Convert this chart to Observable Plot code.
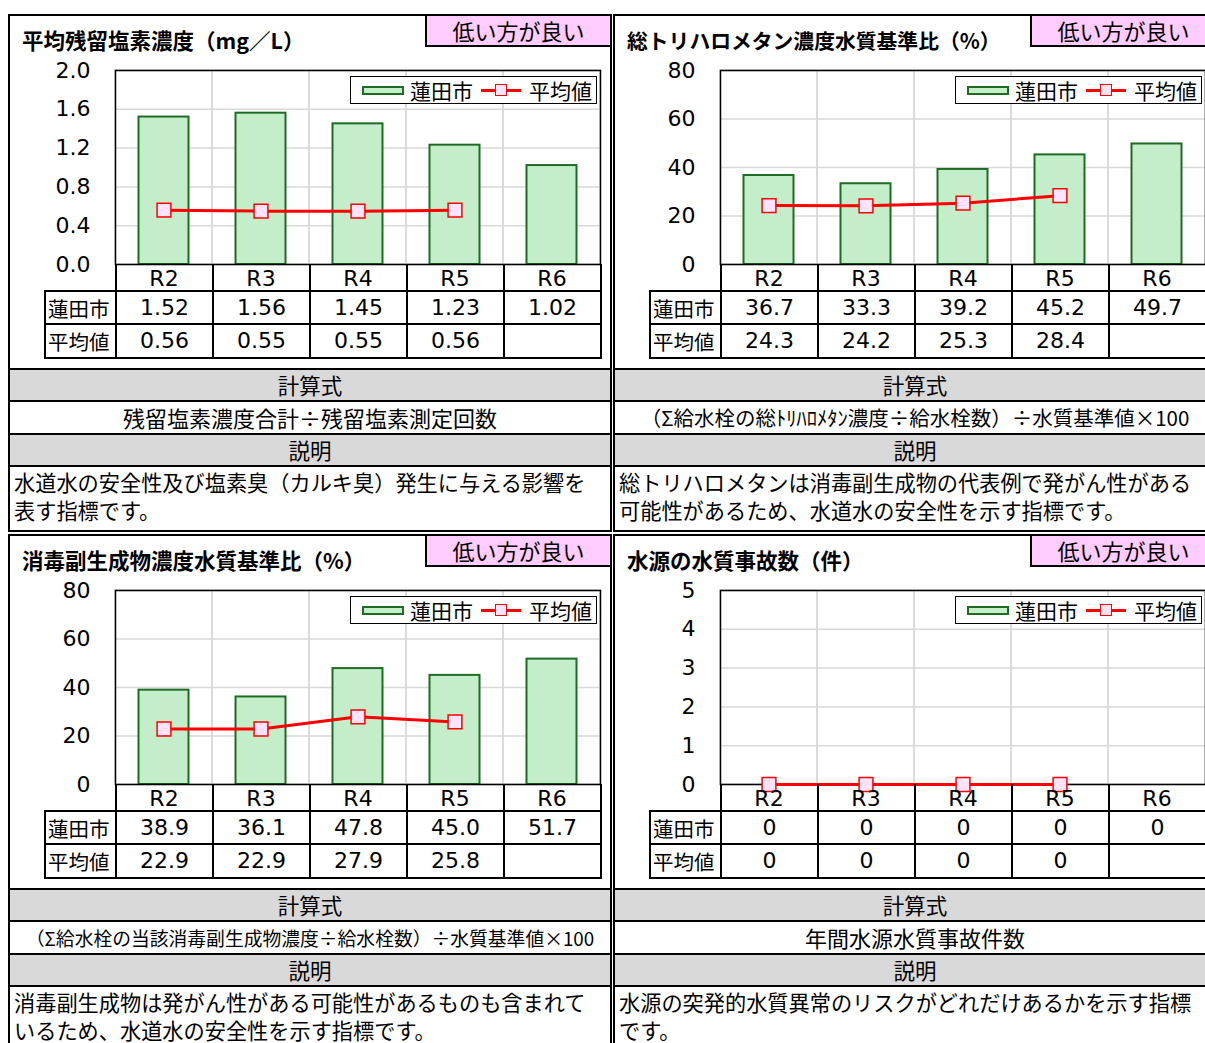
<!DOCTYPE html>
<html><head><meta charset="utf-8">
<script src="https://cdn.jsdelivr.net/npm/d3@7"></script>
<script src="https://cdn.jsdelivr.net/npm/@observablehq/plot@0.6"></script>
<style>
html,body{margin:0;padding:0;background:#fff;}
body{width:1205px;height:1043px;overflow:hidden;position:relative;font-family:"Noto Sans CJK JP","Noto Sans",sans-serif;color:#000;}
.panel{position:absolute;width:604px;height:518px;border:2px solid #000;box-sizing:border-box;background:#fff;}
.title{position:absolute;left:12px;top:10px;font-size:21.5px;font-weight:bold;line-height:28px;white-space:nowrap;}
.badge{position:absolute;left:415px;top:0;right:0;height:31px;box-sizing:border-box;border-left:2px solid #000;border-bottom:2px solid #000;background:#FFCCFF;font-size:22px;line-height:28px;text-align:center;white-space:nowrap;}
.chart{position:absolute;left:0;top:42px;}
.legend{position:absolute;left:340px;top:60px;width:247px;height:28px;box-sizing:border-box;border:1.5px solid #000;background:#fff;display:flex;align-items:center;font-size:21px;line-height:24px;white-space:nowrap;}
.legend .sw{display:inline-block;width:42px;height:9px;box-sizing:border-box;border:2px solid #1E6B24;background:#C4EEC9;margin-left:11px;margin-right:6px;}
.legend .ln{display:inline-block;position:relative;width:40px;height:3px;background:#FF0000;margin-left:8px;margin-right:8px;}
.legend .ln i{position:absolute;left:14px;top:-5px;width:12px;height:12px;box-sizing:border-box;border:1.5px solid #FF0000;background:#FFE3FF;}
.tbl{position:absolute;left:34px;top:248px;border-collapse:collapse;table-layout:fixed;}
.tbl td{border:2px solid #000;padding:0;text-align:center;font-family:"DejaVu Sans","Noto Sans CJK JP",sans-serif;font-size:22px;line-height:30px;white-space:nowrap;}
.tbl tr.hdr td{border-top:none;height:26px;}
.tbl tr.hdr td.blank{border:none;}
.tbl td.lab{font-family:"Noto Sans CJK JP",sans-serif;font-size:20.5px;text-align:left;padding-left:2px;}
.tbl tr.r1 td{height:31px;}
.tbl tr.r2 td{height:32px;}
.sec{position:absolute;left:0;right:0;top:352px;}
.sec div{border-top:2px solid #000;text-align:center;font-size:21.5px;white-space:nowrap;overflow:hidden;}
.sec .g{background:#D9D9D9;height:30px;line-height:30px;}
.sec .f{height:31px;line-height:31px;}
.sec .d{height:62px;text-align:left;padding:1px 0 0 4px;line-height:28px;box-sizing:border-box;font-size:21.2px;}
</style>
</head><body>
<script>
const years = ["R2","R3","R4","R5","R6"];
const rowLabels = ["蓮田市","平均値"];
const badgeText = "低い方が良い";

const titles = ["平均残留塩素濃度（mg／L）","総トリハロメタン濃度水質基準比（%）","消毒副生成物濃度水質基準比（%）","水源の水質事故数（件）"];
const formulas = ["残留塩素濃度合計÷残留塩素測定回数","（Σ給水栓の総ﾄﾘﾊﾛﾒﾀﾝ濃度÷給水栓数）÷水質基準値×100","（Σ給水栓の当該消毒副生成物濃度÷給水栓数）÷水質基準値×100","年間水源水質事故件数"];
const descriptions = [
  ["水道水の安全性及び塩素臭（カルキ臭）発生に与える影響を","表す指標です。"],
  ["総トリハロメタンは消毒副生成物の代表例で発がん性がある","可能性があるため、水道水の安全性を示す指標です。"],
  ["消毒副生成物は発がん性がある可能性があるものも含まれて","いるため、水道水の安全性を示す指標です。"],
  ["水源の突発的水質異常のリスクがどれだけあるかを示す指標","です。"]
];

const cityChlorine = [1.52,1.56,1.45,1.23,1.02];
const avgChlorine = [0.56,0.55,0.55,0.56,null];
const cityTHM = [36.7,33.3,39.2,45.2,49.7];
const avgTHM = [24.3,24.2,25.3,28.4,null];
const cityDBP = [38.9,36.1,47.8,45.0,51.7];
const avgDBP = [22.9,22.9,27.9,25.8,null];
const cityAccident = [0,0,0,0,0];
const avgAccident = [0,0,0,0,null];

const ticksChlorine = [0,0.4,0.8,1.2,1.6,2.0];
const ticksPercent = [0,20,40,60,80];
const ticksAccident = [0,1,2,3,4,5];

const configs = [
  {city:cityChlorine, avg:avgChlorine, ticks:ticksChlorine, tickFmt:d3.format(".1f"), valFmt:d3.format(".2f"), left:8, top:14, fsFormula:22, fsTitle:21.5},
  {city:cityTHM, avg:avgTHM, ticks:ticksPercent, tickFmt:d3.format("d"), valFmt:d3.format(".1f"), left:613, top:14, fsFormula:20.5, fsTitle:20.8},
  {city:cityDBP, avg:avgDBP, ticks:ticksPercent, tickFmt:d3.format("d"), valFmt:d3.format(".1f"), left:8, top:534, fsFormula:18.8, fsTitle:21.5},
  {city:cityAccident, avg:avgAccident, ticks:ticksAccident, tickFmt:d3.format("d"), valFmt:d3.format("d"), left:613, top:534, fsFormula:22, fsTitle:21.5}
];

const NUMFONT = "'DejaVu Sans','Noto Sans CJK JP',sans-serif";

function makeChart(cfg){
  const rows = years.map((yr,i)=>({year:yr, city:cfg.city[i], avg:cfg.avg[i]}));
  const avgRows = rows.filter(d=>d.avg!=null);
  const ymax = cfg.ticks[cfg.ticks.length-1];
  return Plot.plot({
    width:600, height:234, marginLeft:105, marginRight:10, marginTop:12, marginBottom:28,
    style:{fontFamily:NUMFONT, fontSize:"22px", color:"#000", background:"transparent", overflow:"visible"},
    x:{type:"band", domain:years, padding:0, label:null},
    y:{domain:[0,ymax], label:null},
    marks:[
      Plot.ruleY(cfg.ticks,{stroke:"#D9D9D9", strokeWidth:1.5}),
      Plot.barY(years,{x:d=>d, y1:()=>0, y2:()=>ymax, fill:"none", stroke:"#D9D9D9", strokeWidth:1.5}),
      Plot.barY(rows,{x:"year", y:"city", fill:"#C4EEC9", stroke:"#1E6B24", strokeWidth:2, insetLeft:23.5, insetRight:23.5}),
      Plot.frame({stroke:"#000", strokeWidth:1.5}),
      Plot.line(avgRows,{x:"year", y:"avg", stroke:"#FF0000", strokeWidth:3}),
      Plot.dot(avgRows,{x:"year", y:"avg", symbol:"square", r:7.8, fill:"#FFE3FF", stroke:"#FF0000", strokeWidth:1.5}),
      Plot.axisY({ticks:cfg.ticks, tickFormat:cfg.tickFmt, tickSize:0, tickPadding:25, fontSize:22}),
      Plot.axisX({tickSize:0, tickPadding:6, fontSize:22})
    ]
  });
}

configs.forEach((cfg,k)=>{
  const p = document.createElement("div");
  p.className = "panel";
  p.style.left = cfg.left+"px";
  p.style.top = cfg.top+"px";

  const t = document.createElement("div");
  t.className = "title"; t.textContent = titles[k]; t.style.fontSize = cfg.fsTitle+"px"; p.appendChild(t);

  const b = document.createElement("div");
  b.className = "badge"; b.textContent = badgeText; p.appendChild(b);

  const c = document.createElement("div");
  c.className = "chart"; c.appendChild(makeChart(cfg)); p.appendChild(c);

  const lg = document.createElement("div");
  lg.className = "legend";
  lg.innerHTML = `<span class="sw"></span><span>${rowLabels[0]}</span><span class="ln"><i></i></span><span>${rowLabels[1]}</span>`;
  p.appendChild(lg);

  const tb = document.createElement("table");
  tb.className = "tbl";
  let html = `<colgroup><col style="width:71px">${years.map(()=>'<col style="width:97px">').join("")}</colgroup>`;
  html += `<tr class="hdr"><td class="blank"></td>${years.map(()=>"<td></td>").join("")}</tr>`;
  html += `<tr class="r1"><td class="lab">${rowLabels[0]}</td>${cfg.city.map(v=>`<td>${v==null?"":cfg.valFmt(v)}</td>`).join("")}</tr>`;
  html += `<tr class="r2"><td class="lab">${rowLabels[1]}</td>${cfg.avg.map(v=>`<td>${v==null?"":cfg.valFmt(v)}</td>`).join("")}</tr>`;
  tb.innerHTML = html;
  p.appendChild(tb);

  const s = document.createElement("div");
  s.className = "sec";
  s.innerHTML = `<div class="g">計算式</div><div class="f" style="font-size:${cfg.fsFormula}px">${formulas[k]}</div><div class="g">説明</div><div class="d">${descriptions[k].join("<br>")}</div>`;
  p.appendChild(s);

  document.body.appendChild(p);
});
</script>
</body></html>
